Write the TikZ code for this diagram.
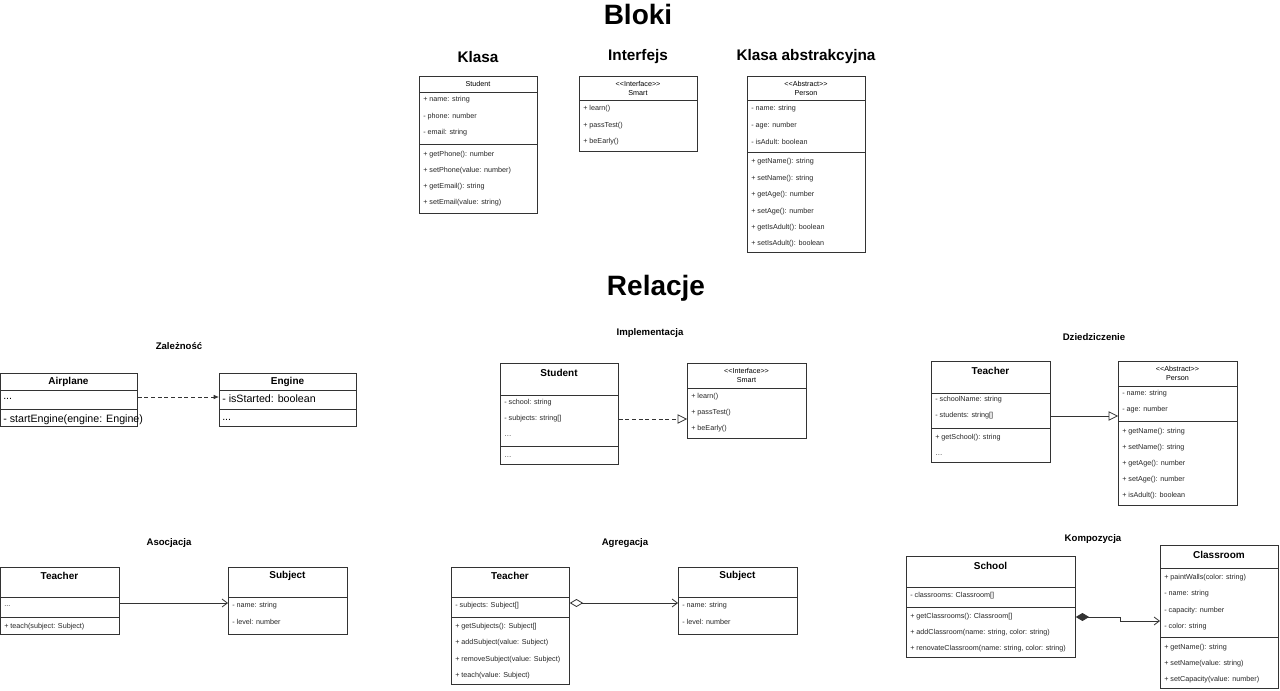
\documentclass[tikz,border=0pt]{standalone}
\usepackage{fontspec}
\setmainfont{Liberation Sans}
\usetikzlibrary{arrows.meta,positioning}

\tikzset{
    box/.style={draw=black!80, line width=0.6pt, fill=white, inner sep=0},
    row/.style={anchor=west, inner sep=0, font=\fontsize{5.4}{6}\selectfont, text=black!85},
    rowm/.style={anchor=west, inner sep=0, font=\fontsize{8}{9}\selectfont},
    head/.style={inner sep=0, font=\fontsize{5.4}{6}\selectfont},
    headb/.style={inner sep=0, font=\bfseries\fontsize{7.5}{8}\selectfont},
    title/.style={font=\bfseries\fontsize{21}{24}\selectfont},
    subtitle/.style={font=\bfseries\fontsize{11.5}{13}\selectfont},
    label/.style={font=\bfseries\fontsize{7.2}{8}\selectfont},
    conn/.style={draw=black!80, line width=0.6pt},
}
% class box: name, x, y, width, height (pixels)
\newcommand\umlbox[5]{\node[box, anchor=north west, minimum width=#4*0.75pt, minimum height=#5*0.75pt] (#1) at (#2,#3) {};}
% separator line inside a box at pixel height
\newcommand\umlsep[2]{\draw[conn] (#1.west |- 0,#2) -- (#1.east |- 0,#2);}

\begin{document}
\begin{tikzpicture}[x=0.75pt, y=-0.75pt]
    \useasboundingbox (0,0) rectangle (1280,691);

    % Headings
    \node[title] (bloki) at (638,14) {Bloki};
    \node[subtitle] (klasa) at (478,57) {Klasa};
    \node[subtitle] (interfejs) at (638,57) {Interfejs};
    \node[subtitle] (abstr) at (806,57) {Klasa abstrakcyjna};
    \node[title] (relacje) at (656,288) {Relacje};

    % Klasa - Student
    \umlbox{stu}{419}{76}{118}{137}
    \node[head] (stu-h) at (478,84) {Student};
    \umlsep{stu}{92}
    \umlsep{stu}{144}
    \foreach \yy/\t [count=\i] in {100/+ name: string, 117/- phone: number, 133/- email: string,
        155/+ getPhone(): number, 171/+ setPhone(value: number), 187/+ getEmail(): string,
        203/+ setEmail(value: string)}
        \node[row] (stu-\i) at (423,\yy) {\t};

    % Interfejs - Smart
    \umlbox{sm}{579}{76}{118}{75}
    \node[head] (sm-h1) at (638,84) {{<}{<}Interface{>}{>}};
    \node[head] (sm-h2) at (638,93) {Smart};
    \umlsep{sm}{100}
    \foreach \yy/\t [count=\i] in {109/+ learn(), 126/+ passTest(), 142/+ beEarly()}
        \node[row] (sm-\i) at (583,\yy) {\t};

    % Klasa abstrakcyjna - Person
    \umlbox{per}{747}{76}{118}{176}
    \node[head] (per-h1) at (806,84) {{<}{<}Abstract{>}{>}};
    \node[head] (per-h2) at (806,93) {Person};
    \umlsep{per}{100}
    \umlsep{per}{152}
    \foreach \yy/\t [count=\i] in {109/- name: string, 126/- age: number, 142/- isAdult: boolean,
        162/+ getName(): string, 179/+ setName(): string, 195/+ getAge(): number,
        212/+ setAge(): number, 228/+ getIsAdult(): boolean, 244/+ setIsAdult(): boolean}
        \node[row] (per-\i) at (751,\yy) {\t};

    % Zaleznosc
    \node[label] (l-zal) at (179,346) {Zależność};
    \umlbox{air}{0}{373}{137}{53}
    \node[headb] (air-h) at (68.5,382) {Airplane};
    \umlsep{air}{390}
    \umlsep{air}{409}
    \node[rowm] (air-1) at (3,399) {...};
    \node[rowm] (air-2) at (3,420) {- startEngine(engine: Engine)};
    \umlbox{eng}{219}{373}{137}{53}
    \node[headb] (eng-h) at (287.5,382) {Engine};
    \umlsep{eng}{390}
    \umlsep{eng}{409}
    \node[rowm] (eng-1) at (222,399) {- isStarted: boolean};
    \node[rowm] (eng-2) at (222,420) {...};
    \draw[conn, densely dashed, -{Latex[length=4pt,width=3.5pt]}] (air.east |- 0,397) -- (eng.west |- 0,397);

    % Implementacja
    \node[label] (l-imp) at (650,333) {Implementacja};
    \umlbox{ist}{500}{363}{118}{101}
    \node[headb] (ist-h) at (559,373) {Student};
    \umlsep{ist}{395}
    \umlsep{ist}{446}
    \foreach \yy/\t [count=\i] in {403/- school: string, 419/- subjects: string[], 436/{\ldots}, 457/{\ldots}}
        \node[row] (ist-\i) at (504,\yy) {\t};
    \umlbox{ism}{687}{363}{119}{75}
    \node[head] (ism-h1) at (746.5,371) {{<}{<}Interface{>}{>}};
    \node[head] (ism-h2) at (746.5,380) {Smart};
    \umlsep{ism}{388}
    \foreach \yy/\t [count=\i] in {397/+ learn(), 413/+ passTest(), 429/+ beEarly()}
        \node[row] (ism-\i) at (691,\yy) {\t};
    \draw[conn, densely dashed, -{Triangle[open,length=7pt,width=7pt]}] (ist.east |- ist-2) -- (ism.west |- ist-2);

    % Dziedziczenie
    \node[label] (l-dzi) at (1094,337) {Dziedziczenie};
    \umlbox{tea}{931}{361}{119}{101}
    \node[headb] (tea-h) at (990.5,371) {Teacher};
    \umlsep{tea}{393}
    \umlsep{tea}{428}
    \foreach \yy/\t [count=\i] in {400/- schoolName: string, 416/- students: string[],
        438/+ getSchool(): string, 455/{\ldots}}
        \node[row] (tea-\i) at (935,\yy) {\t};
    \umlbox{ape}{1118}{361}{119}{144}
    \node[head] (ape-h1) at (1177.5,369) {{<}{<}Abstract{>}{>}};
    \node[head] (ape-h2) at (1177.5,378) {Person};
    \umlsep{ape}{386}
    \umlsep{ape}{421}
    \foreach \yy/\t [count=\i] in {394/- name: string, 410/- age: number, 432/+ getName(): string,
        448/+ setName(): string, 464/+ getAge(): number, 480/+ setAge(): number,
        496/+ isAdult(): boolean}
        \node[row] (ape-\i) at (1122,\yy) {\t};
    \draw[conn, -{Triangle[open,length=7pt,width=7pt]}] (tea.east |- tea-2) -- (ape.west |- tea-2);

    % Asocjacja
    \node[label] (l-aso) at (169,543) {Asocjacja};
    \umlbox{ate}{0}{567}{119}{67}
    \node[headb] (ate-h) at (59.5,576) {Teacher};
    \umlsep{ate}{597}
    \umlsep{ate}{617}
    \node[row] (ate-1) at (4,606) {...};
    \node[row] (ate-2) at (4,627) {+ teach(subject: Subject)};
    \umlbox{asu}{228}{567}{119}{67}
    \node[headb] (asu-h) at (287.5,576) {Subject};
    \umlsep{asu}{597}
    \node[row] (asu-1) at (232,606) {- name: string};
    \node[row] (asu-2) at (232,622) {- level: number};
    \draw[conn, -{Straight Barb[length=4pt,width=6pt]}] (ate.east |- 0,603) -- (asu.west |- 0,603);

    % Agregacja
    \node[label] (l-agr) at (625,543) {Agregacja};
    \umlbox{gte}{451}{567}{118}{117}
    \node[headb] (gte-h) at (510,576) {Teacher};
    \umlsep{gte}{597}
    \umlsep{gte}{617}
    \foreach \yy/\t [count=\i] in {606/- subjects: Subject[], 627/+ getSubjects(): Subject[],
        643/+ addSubject(value: Subject), 660/+ removeSubject(value: Subject), 676/+ teach(value: Subject)}
        \node[row] (gte-\i) at (455,\yy) {\t};
    \umlbox{gsu}{678}{567}{119}{67}
    \node[headb] (gsu-h) at (737.5,576) {Subject};
    \umlsep{gsu}{597}
    \node[row] (gsu-1) at (682,606) {- name: string};
    \node[row] (gsu-2) at (682,622) {- level: number};
    \draw[conn, {Diamond[open,length=10pt,width=6pt]}-{Straight Barb[length=4pt,width=6pt]}] (gte.east |- 0,603) -- (gsu.west |- 0,603);

    % Kompozycja
    \node[label] (l-kom) at (1093,539) {Kompozycja};
    \umlbox{sch}{906}{556}{169}{101}
    \node[headb] (sch-h) at (990.5,566) {School};
    \umlsep{sch}{587}
    \umlsep{sch}{607}
    \foreach \yy/\t [count=\i] in {596/- classrooms: Classroom[], 617/+ getClassrooms(): Classroom[],
        633/{+ addClassroom(name: string, color: string)}, 649/{+ renovateClassroom(name: string, color: string)}}
        \node[row] (sch-\i) at (910,\yy) {\t};
    \umlbox{cla}{1160}{545}{118}{143}
    \node[headb] (cla-h) at (1219,555) {Classroom};
    \umlsep{cla}{568}
    \umlsep{cla}{637}
    \foreach \yy/\t [count=\i] in {578/+ paintWalls(color: string), 594/- name: string,
        611/- capacity: number, 627/- color: string, 648/+ getName(): string,
        664/+ setName(value: string), 680/+ setCapacity(value: number)}
        \node[row] (cla-\i) at (1164,\yy) {\t};
    \coordinate (bend) at (1120,617);
    \draw[conn, {Diamond[length=10pt,width=6pt]}-{Straight Barb[length=4pt,width=6pt]}]
        (sch.east |- bend) -- (bend) -- ++(0,4) -- (cla.west |- 0,621);
\end{tikzpicture}
\end{document}
